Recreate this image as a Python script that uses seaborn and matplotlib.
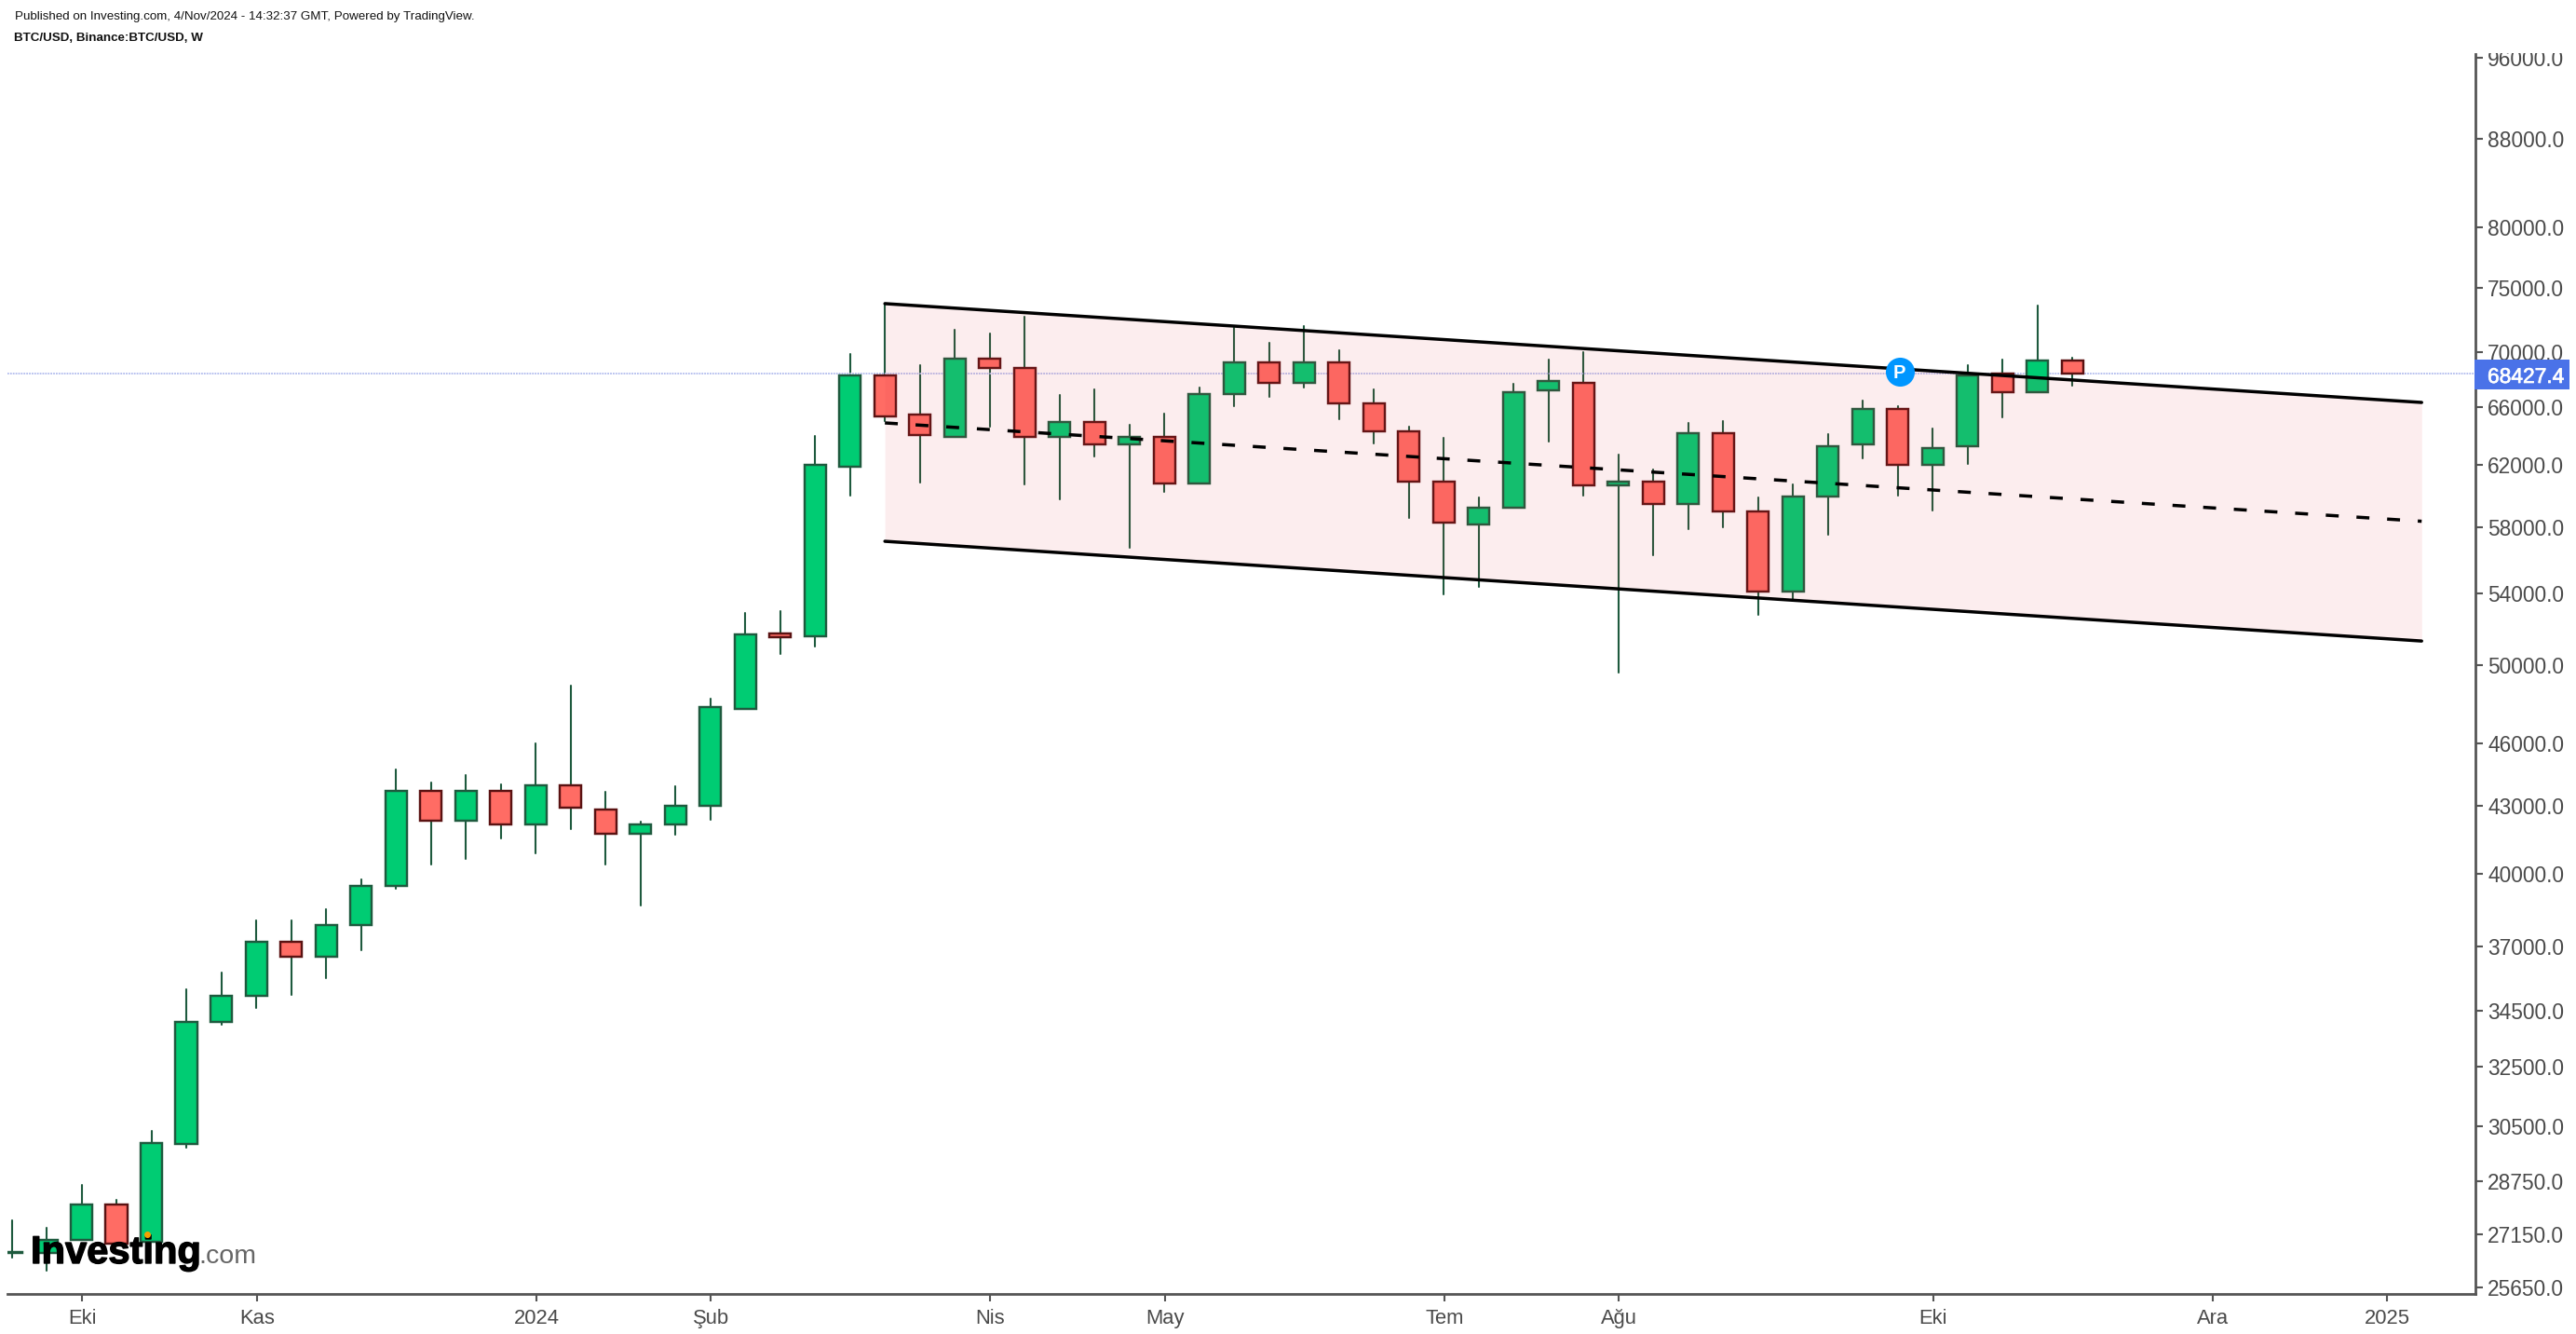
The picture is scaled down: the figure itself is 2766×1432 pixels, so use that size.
import numpy as np
import pandas as pd
import matplotlib
matplotlib.use('Agg')
import matplotlib.pyplot as plt
import matplotlib.patheffects as pe
from matplotlib.patches import Rectangle
from matplotlib.lines import Line2D
from matplotlib.transforms import Bbox
import seaborn as sns

# weekly candles
opens = [26610,26610,26990,28030,26930,29910,34100,35070,37160,36570,
         37840,39460,43700,42320,43700,42150,43960,42830,41740,42150,
         43010,47720,51750,51590,61890,68260,65450,63900,69500,68810,
         63900,64930,63390,63900,60790,66910,69220,67720,69220,66240,
         64290,60910,58170,59230,67180,67720,60660,60910,59460,64160,
         58990,54130,59940,63390,65850,62010,63270,68400,67040,69360]
closes = [26640,26990,28030,26880,29940,34100,35070,37160,36570,37840,
          39460,43700,42320,43700,42150,43960,42920,41740,42150,43010,
          47820,51690,51540,62010,68260,65320,64030,69500,68810,63900,
          64930,63390,63900,60790,66910,69220,67720,69220,66240,64290,
          60910,58290,59230,67040,67850,60660,60910,59460,64160,58990,
          54130,59940,63270,65850,62010,63140,68260,67040,69360,68400]
highs = [27560,27340,28630,28170,30340,35320,35960,38030,38030,38490,
         39740,44720,44100,44450,44010,45990,48930,43660,42280,43920,
         48250,52900,53000,63970,69850,73730,69020,71690,71400,72700,
         66840,67250,64740,65520,67380,71830,70690,71980,70130,67250,
         64610,63840,59880,67650,69430,69990,62700,61700,64870,65000,
         59880,60720,64090,66440,66050,64480,69020,69430,73580,69570]
lows = [26480,26110,26990,26880,26930,29800,34000,34620,35110,35740,
        36830,39340,40380,40620,41530,40870,41940,40380,38640,41690,
        42370,47720,50620,51030,60000,65000,60850,63900,64610,60720,
        59760,62570,56730,60240,60790,66050,66710,67380,65130,63460,
        58580,53970,54400,59230,63580,60000,49620,56280,57880,57990,
        52790,53700,57530,62450,60000,59050,62080,65260,67040,67510]

last_price = 68427.4
marker_price = 68540
marker_week = 54
channel_weeks = [25, 69]
channel_upper = [73730, 66310]
channel_lower = [57130, 51330]
channel_mid = [64870, 58370]

y_ticks = [96000,88000,80000,75000,70000,66000,62000,58000,54000,50000,
           46000,43000,40000,37000,34500,32500,30500,28750,27150,25650]
x_tick_weeks = [2, 7, 15, 20, 28, 33, 41, 46, 55, 63, 68]
x_tick_labels = ['Eki','Kas','2024','Şub','Nis','May','Tem','Ağu','Eki','Ara','2025']

W, H = 2766, 1432
sns.set_theme(style='white')
plt.rcParams['font.family'] = ['Liberation Sans', 'DejaVu Sans']

GREEN, RED = '#00CC73', '#FF6C64'
GEDGE, REDGE, WICK = '#1E5A3E', '#5A1212', '#1E5A3E'
INK = '#4A4A4A'

def fx(x): return x / W
def fy(y): return 1 - y / H

fig = plt.figure(figsize=(W/100, H/100), dpi=100, facecolor='white')
ax = fig.add_axes([fx(8), fy(1389), fx(2658-8), fy(58)-fy(1389)])
ax.set_yscale('log')
ax.set_xlim(-0.123, 70.54)
ax.set_ylim(25470, 96380)

df = pd.DataFrame({'week': np.arange(len(opens)), 'open': opens, 'close': closes,
                   'high': highs, 'low': lows})
df['up'] = df['close'] >= df['open']

wicks = df.melt(id_vars='week', value_vars=['high', 'low'], value_name='price')
sns.lineplot(data=wicks, x='week', y='price', units='week', estimator=None,
             color=WICK, lw=1.5, ax=ax, zorder=2, legend=False)

ax.axhline(last_price, color='#B2BCEE', lw=1.3, ls=(0, (1, 0.6)), zorder=2.5)

bottoms = df[['open', 'close']].min(axis=1)
heights = df[['open', 'close']].max(axis=1) - bottoms
ax.bar(df['week'], heights, bottom=bottoms, width=0.62,
       color=[GREEN if u else RED for u in df['up']],
       edgecolor=[GEDGE if u else REDGE for u in df['up']],
       linewidth=1.75, zorder=3)

ax.fill_between(channel_weeks, channel_lower, channel_upper,
                color='#E63946', alpha=0.09, lw=0, zorder=4)
sns.lineplot(x=channel_weeks, y=channel_upper, color='black', lw=2.5, ax=ax, zorder=5)
sns.lineplot(x=channel_weeks, y=channel_lower, color='black', lw=2.5, ax=ax, zorder=5)
mid = sns.lineplot(x=channel_weeks, y=channel_mid, color='black', lw=2.5, ax=ax, zorder=5)
mid.lines[-1].set_linestyle((0, (4.0, 5.5)))
mid.lines[-1].set_dash_capstyle('butt')

ax.scatter([marker_week + 0.05], [marker_price], s=500, color='#0096FF', lw=0, zorder=6)
ax.text(marker_week + 0.05, marker_price, 'P', color='white', fontsize=14.5, fontweight='bold',
        ha='center', va='center_baseline', zorder=7)

for s in ['top', 'left']:
    ax.spines[s].set_visible(False)
for s in ['right', 'bottom']:
    ax.spines[s].set_color('#555555')
    ax.spines[s].set_linewidth(2.0)

ax.set_xlabel('')
ax.set_ylabel('')
ax.yaxis.tick_right()
ax.set_yticks(y_ticks)
ax.set_yticklabels([f'{v:.1f}' for v in y_ticks])
ax.minorticks_off()
ax.yaxis.set_minor_locator(matplotlib.ticker.NullLocator())
ax.tick_params(axis='y', which='major', right=True, length=5.6, width=1.5, color='#555555',
               labelsize=16.4, labelcolor=INK, pad=3.8)
ax.set_xticks([w + 0.02 for w in x_tick_weeks])
ax.set_xticklabels(x_tick_labels)
ax.tick_params(axis='x', which='major', bottom=True, length=5.6, width=1.5, color='#555555',
               labelsize=15.8, labelcolor=INK, pad=6)

clip = Bbox([[2660, 0], [W, H - 57]])
for t in ax.yaxis.get_major_ticks():
    t.label2.set_clip_box(clip)
    t.label2.set_clip_on(True)

fig.patches.append(Rectangle((fx(2657), fy(417.7)), (2759-2657)/W, (417.7-386)/H,
                             transform=fig.transFigure, facecolor='#4A72E8', edgecolor='none',
                             zorder=8, figure=fig))
price_text = fig.text(fx(2671), fy(402), f'{last_price:.1f}', color='white', fontsize=16.4,
                      ha='left', va='center_baseline', zorder=9)
price_text.set_path_effects([pe.withStroke(linewidth=0.5, foreground='white')])

fig.text(fx(16), fy(18), 'Published on Investing.com, 4/Nov/2024 - 14:32:37 GMT, Powered by TradingView.',
         color='#111111', fontsize=9.6, ha='left', va='center')
fig.text(fx(15), fy(41), 'BTC/USD, Binance:BTC/USD, W',
         color='#111111', fontsize=9.6, fontweight='bold', ha='left', va='center')

logo = fig.text(fx(33), fy(1356), 'Investing', color='black', fontsize=30, fontweight='bold',
                ha='left', va='baseline', zorder=10)
logo.set_path_effects([pe.withStroke(linewidth=1.0, foreground='black')])
fig.text(fx(213), fy(1356), '.com', color='#666666', fontsize=20.5, ha='left', va='baseline', zorder=10)
fig.add_artist(Line2D([fx(158)], [fy(1325)], marker='o', ms=4, color='#F5A000', lw=0, zorder=11))

fig.savefig('out.png', dpi=100, facecolor='white')
